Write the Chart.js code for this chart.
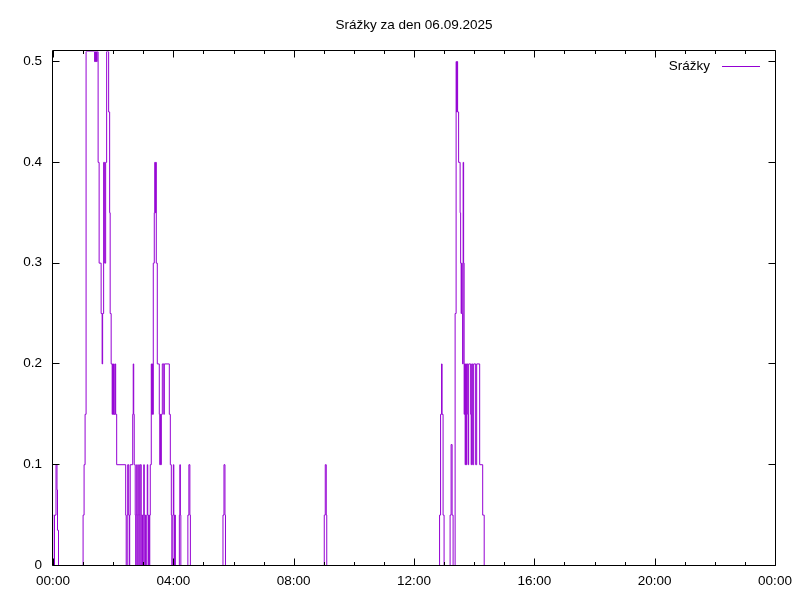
<!DOCTYPE html>
<html><head><meta charset="utf-8">
<script src="https://cdn.jsdelivr.net/npm/chart.js@4/dist/chart.umd.min.js"></script>
<style>html,body{margin:0;padding:0;background:#fff}#wrap{width:800px;height:600px}</style>
</head><body><div id="wrap"><canvas id="c" width="800" height="600"></canvas></div>
<script>
const chartTitle = 'Srážky za den 06.09.2025';
const seriesName = 'Srážky';
// time of each change, minutes after midnight
const minutes = [
  0,1,2,5,7,8,10,
  59,61,63,65,82,83,84,85,86,87,89,91,95,97,98,100,102,104,106,110,112,113,115,117,118,119,120,121,123,124,126,
  144,145,147,148,150,151,152,153,158,159,160,161,163,164,165,166,167,168,169,170,171,172,173,175,176,177,178,179,180,181,182,183,184,186,187,188,189,190,191,192,193,
  195,196,197,198,199,201,202,203,204,205,207,211,212,213,214,215,217,220,221,231,233,235,236,238,239,240,241,242,243,251,252,253,254,
  268,270,272,273,338,340,342,343,540,542,544,545,
  770,772,774,775,777,779,791,793,795,797,
  801,803,804,805,806,808,811,812,813,814,815,816,817,818,819,820,821,822,823,824,826,827,828,832,833,834,836,838,842,844,850,856,859,1440
];
// precipitation value from that time on
const rain = [
  0.05,0,0.05,0.1,0.075,0.035,0,
  0.05,0.1,0.15,0.51,0.5,0.51,0.5,0.51,0.5,0.51,0.4,0.3,0.25,0.2,0.25,0.4,0.3,0.4,0.51,0.45,0.35,0.25,0.2,0.15,0.2,0.15,0.2,0.15,0.2,0.15,0.1,
  0.05,0,0.05,0.1,0.05,0,0.05,0.1,0.15,0.2,0.15,0.1,0.05,0,0.05,0.1,0.05,0,0.05,0.1,0.05,0,0.1,0.05,0,0.05,0,0.05,0.1,0.05,0,0.05,0,0.05,0.1,0.05,0,0.05,0,0.05,0.1,
  0.2,0.15,0.2,0.15,0.3,0.35,0.4,0.35,0.4,0.3,0.2,0.15,0.1,0.15,0.1,0.15,0.2,0.15,0.2,0.15,0.1,0.05,0,0.05,0.1,0.05,0,0.05,0,0.05,0.1,0.05,0,
  0.05,0.1,0.05,0,0.05,0.1,0.05,0,0.05,0.1,0.05,0,
  0.05,0.15,0.2,0.15,0.05,0,0.05,0.12,0.05,0,
  0.25,0.5,0.45,0.5,0.45,0.4,0.35,0.3,0.25,0.3,0.25,0.2,0.4,0.3,0.15,0.2,0.1,0.2,0.1,0.2,0.15,0.1,0.2,0.15,0.1,0.2,0.1,0.2,0.1,0.2,0.1,0.05,0,0
];
const xMajorTicks = [0,240,480,720,960,1200,1440];
const xTickLabels = ['00:00','04:00','08:00','12:00','16:00','20:00','00:00'];
const xMinorStep = 60;
const yTicks = [0,0.1,0.2,0.3,0.4,0.5];
const yTickLabels = ['0','0.1','0.2','0.3','0.4','0.5'];
const yMax = 0.51;

const lineColor = '#9400d3';
const FONT = "'Liberation Sans', Arial, sans-serif";
const FS = 13.5;

const points = minutes.map((m, i) => ({x: m, y: rain[i]}));

const crisp = {
  id: 'crisp',
  beforeDatasetsDraw(chart) { chart.ctx.save(); chart.ctx.translate(0.5, 0.5); },
  afterDatasetsDraw(chart) { chart.ctx.restore(); }
};

const gnuFrame = {
  id: 'gnuFrame',
  afterDraw(chart) {
    const {ctx, chartArea: a, scales} = chart;
    const x = scales.x, y = scales.y;
    ctx.save();
    ctx.strokeStyle = '#000';
    ctx.lineWidth = 1;
    const L = a.left - 0.5, R = a.right + 0.5, T = a.top - 0.5, B = a.bottom + 0.5;
    ctx.beginPath();
    ctx.rect(L, T, R - L, B - T);
    for (let m = 0; m <= 1440; m += xMinorStep) {
      const px = Math.round(x.getPixelForValue(m)) + 0.5;
      const len = xMajorTicks.includes(m) ? 7 : 3.5;
      ctx.moveTo(px, B); ctx.lineTo(px, B - len);
      ctx.moveTo(px, T); ctx.lineTo(px, T + len);
    }
    yTicks.forEach(v => {
      const py = Math.round(y.getPixelForValue(v)) + 0.5;
      ctx.moveTo(L, py); ctx.lineTo(L + 7, py);
      ctx.moveTo(R, py); ctx.lineTo(R - 7, py);
    });
    ctx.stroke();
    ctx.fillStyle = '#000';
    ctx.font = FS + 'px ' + FONT;
    ctx.textAlign = 'center';
    ctx.textBaseline = 'middle';
    ctx.fillText(chartTitle, (a.left + a.right) / 2, 25);
    ctx.textAlign = 'right';
    ctx.fillText(seriesName, 710, 66);
    ctx.strokeStyle = lineColor;
    ctx.beginPath();
    ctx.moveTo(722, 66.5); ctx.lineTo(760, 66.5);
    ctx.stroke();
    ctx.restore();
  }
};

new Chart(document.getElementById('c'), {
  type: 'line',
  data: {
    datasets: [{
      label: seriesName,
      data: points,
      borderColor: lineColor,
      backgroundColor: lineColor,
      borderWidth: 1,
      pointRadius: 0,
      stepped: true,
      fill: false,
      tension: 0
    }]
  },
  options: {
    responsive: false,
    animation: false,
    devicePixelRatio: 1,
    layout: {padding: {top: 51, right: 25, left: 0, bottom: 0}},
    plugins: {legend: {display: false}, title: {display: false}, tooltip: {enabled: false}},
    scales: {
      x: {
        type: 'linear', min: 0, max: 1440,
        grid: {display: false, drawTicks: false},
        border: {display: false},
        afterBuildTicks: s => { s.ticks = xMajorTicks.map(v => ({value: v})); },
        afterFit: s => { s.height = 35; },
        ticks: {
          autoSkip: false, maxRotation: 0, padding: 8, color: '#000',
          font: {family: FONT, size: FS},
          callback: v => xTickLabels[xMajorTicks.indexOf(v)]
        }
      },
      y: {
        type: 'linear', min: 0, max: yMax,
        grid: {display: false, drawTicks: false},
        border: {display: false},
        afterBuildTicks: s => { s.ticks = yTicks.map(v => ({value: v})); },
        afterFit: s => { s.width = 53; },
        ticks: {
          padding: 11, color: '#000',
          font: {family: FONT, size: FS},
          callback: v => yTickLabels[yTicks.indexOf(v)]
        }
      }
    }
  },
  plugins: [crisp, gnuFrame]
});
</script>
</body></html>
